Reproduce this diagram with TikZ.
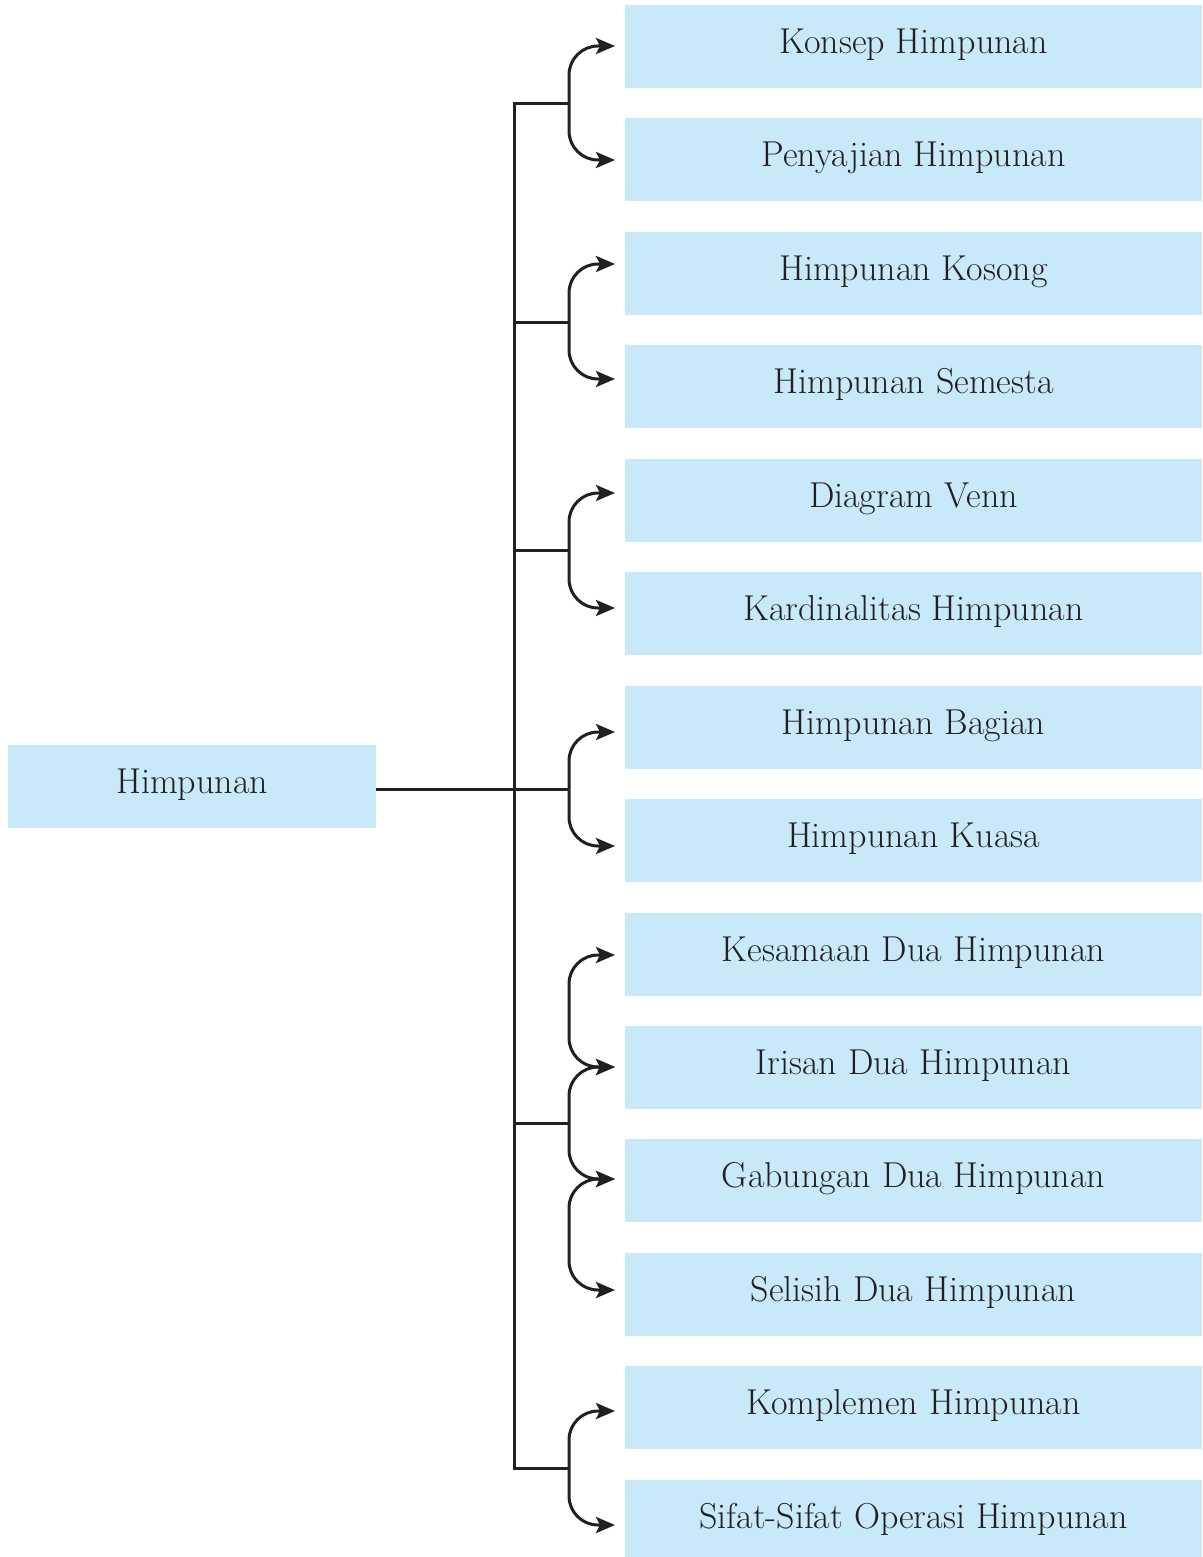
\documentclass[tikz,border=0pt]{standalone}
\usepackage{fontspec}
\usetikzlibrary{arrows.meta}
\definecolor{boxblue}{RGB}{199,233,249}
\definecolor{ink}{RGB}{35,31,32}
\begin{document}
\begin{tikzpicture}[x=1pt,y=-1pt,
  topic/.style={fill=boxblue, minimum width=577pt, minimum height=83pt, inner sep=0pt,
    text height=23pt, text depth=9pt, font=\fontsize{36}{43}\selectfont, text=ink},
  rootbox/.style={topic, minimum width=368pt},
  conn/.style={draw=ink, line width=3pt},
  tip/.tip={Stealth[length=19pt,width=16pt,inset=4pt]},
  arr/.style={conn, -tip, rounded corners=29pt},
  darr/.style={conn, tip-tip, rounded corners=29pt}]
\useasboundingbox (0,0) rectangle (1202,1557);

% root
\node[rootbox] (h) at (192,786.5) {Himpunan};

% topic boxes
\node[topic] (b1)  at (913.5,46.5)   {Konsep Himpunan};
\node[topic] (b2)  at (913.5,159.5)  {Penyajian Himpunan};
\node[topic] (b3)  at (913.5,273.5)  {Himpunan Kosong};
\node[topic] (b4)  at (913.5,386.5)  {Himpunan Semesta};
\node[topic] (b5)  at (913.5,500.5)  {Diagram Venn};
\node[topic] (b6)  at (913.5,613.5)  {Kardinalitas Himpunan};
\node[topic] (b7)  at (913.5,727.5)  {Himpunan Bagian};
\node[topic] (b8)  at (913.5,840.5)  {Himpunan Kuasa};
\node[topic] (b9)  at (913.5,954.5)  {Kesamaan Dua Himpunan};
\node[topic] (b10) at (913.5,1067.5) {Irisan Dua Himpunan};
\node[topic] (b11) at (913.5,1180.5) {Gabungan Dua Himpunan};
\node[topic] (b12) at (913.5,1294.5) {Selisih Dua Himpunan};
\node[topic] (b13) at (913.5,1407.5) {Komplemen Himpunan};
\node[topic] (b14) at (913.5,1521.5) {Sifat-Sifat Operasi Himpunan};

% arrow tips in front of the boxes
\coordinate (t1)  at (615,46);
\coordinate (t2)  at (615,160);
\coordinate (t3)  at (615,264);
\coordinate (t4)  at (615,379);
\coordinate (t5)  at (615,493);
\coordinate (t6)  at (615,608);
\coordinate (t7)  at (615,732);
\coordinate (t8)  at (615,846);
\coordinate (t9)  at (615,955);
\coordinate (t10) at (615,1067);
\coordinate (t11) at (615,1179);
\coordinate (t12) at (615,1290);
\coordinate (t13) at (615,1411);
\coordinate (t14) at (615,1525);

% spine and junctions
\coordinate (s1) at (514,104);
\coordinate (s2) at (514,322);
\coordinate (s3) at (514,550);
\coordinate (s5) at (514,1123);
\coordinate (s6) at (514,1468);
\coordinate (j1) at (569,104);
\coordinate (j2) at (569,322);
\coordinate (j3) at (569,550);
\coordinate (j4) at (569,789.5);
\coordinate (j5) at (569,1123);
\coordinate (j6) at (569,1468);
\coordinate (k5a) at (569,1011);
\coordinate (k5b) at (569,1235);

\draw[conn] (j1) -- (s1) -- (s6) -- (j6);
\draw[conn] (s2) -- (j2);
\draw[conn] (s3) -- (j3);
\draw[conn] (s5) -- (j5);
\draw[conn] ([yshift=-3pt]h.east) -- (j4);

% branches
\draw[arr] (j1) |- (t1);
\draw[arr] (j1) |- (t2);
\draw[arr] (j2) |- (t3);
\draw[arr] (j2) |- (t4);
\draw[arr] (j3) |- (t5);
\draw[arr] (j3) |- (t6);
\draw[arr] (j4) |- (t7);
\draw[arr] (j4) |- (t8);
\draw[arr] (j5) |- (t10);
\draw[arr] (j5) |- (t11);
\draw[darr] (t9) -| (k5a) |- (t10);
\draw[darr] (t11) -| (k5b) |- (t12);
\draw[arr] (j6) |- (t13);
\draw[arr] (j6) |- (t14);
\end{tikzpicture}
\end{document}
